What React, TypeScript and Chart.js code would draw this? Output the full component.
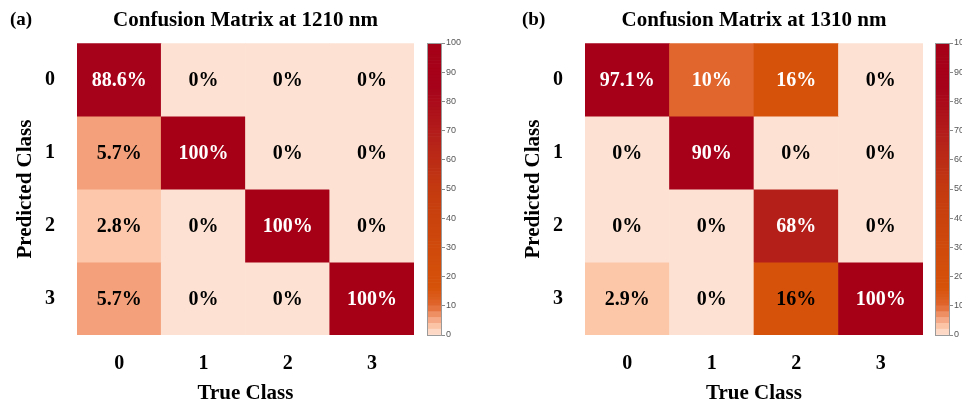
import React, { useEffect, useRef } from 'react';
import { Chart, registerables } from 'chart.js';

Chart.register(...registerables);

// ---- data ----
const classLabels = ['0', '1', '2', '3'];

// rows = predicted class, columns = true class (percent)
const matrix1210 = [
  [88.6, 0, 0, 0],
  [5.7, 100, 0, 0],
  [2.8, 0, 100, 0],
  [5.7, 0, 0, 100],
];

const matrix1310 = [
  [97.1, 10, 16, 0],
  [0, 90, 0, 0],
  [0, 0, 68, 0],
  [2.9, 0, 16, 100],
];

const colorbarTicks = [0, 10, 20, 30, 40, 50, 60, 70, 80, 90, 100];

// ---- styling ----
const SERIF = "'Liberation Serif', 'Times New Roman', Times, serif";
const SANS = "'Liberation Sans', Arial, sans-serif";

// value -> colour stops of the heat colour map
const STOPS: [number, string][] = [
  [0, '#fde2d3'],
  [2.8, '#fcc7aa'],
  [5.7, '#f4a07a'],
  [10, '#e0662e'],
  [16, '#d6520a'],
  [30, '#cf4a0b'],
  [50, '#c43a10'],
  [68, '#b41f1a'],
  [85, '#a6021a'],
  [100, '#a50016'],
];

function hexToRgb(h: string): number[] {
  const n = parseInt(h.slice(1), 16);
  return [(n >> 16) & 255, (n >> 8) & 255, n & 255];
}

function cmap(v: number): string {
  let i = 0;
  while (i < STOPS.length - 2 && v > STOPS[i + 1][0]) i++;
  const [v0, c0] = STOPS[i];
  const [v1, c1] = STOPS[i + 1];
  const t = Math.max(0, Math.min(1, (v - v0) / (v1 - v0)));
  const a = hexToRgb(c0);
  const b = hexToRgb(c1);
  const m = a.map((x, k) => Math.round(x + (b[k] - x) * t));
  return `rgb(${m[0]},${m[1]},${m[2]})`;
}

// percentage text inside each cell
const cellTextPlugin = {
  id: 'cellText',
  afterDatasetsDraw(chart: any, _args: any, opts: any) {
    const { ctx } = chart;
    const matrix: number[][] = opts.matrix;
    const isLight: (v: number, r: number, c: number) => boolean = opts.isLight;
    ctx.save();
    ctx.font = `bold 20px ${SERIF}`;
    ctx.textAlign = 'center';
    ctx.textBaseline = 'middle';
    chart.data.datasets.forEach((_ds: any, r: number) => {
      const meta = chart.getDatasetMeta(r);
      meta.data.forEach((el: any, c: number) => {
        const { x, y, base } = el.getProps(['x', 'y', 'base'], true);
        const v = matrix[r][c];
        ctx.fillStyle = isLight(v, r, c) ? '#ffffff' : '#000000';
        ctx.fillText(`${v}%`, x, (y + base) / 2 + 1);
      });
    });
    ctx.restore();
  },
};

// panel tag such as "(a)"
const panelTagPlugin = {
  id: 'panelTag',
  afterDraw(chart: any, _args: any, opts: any) {
    const { ctx } = chart;
    ctx.save();
    ctx.font = `bold 19px ${SERIF}`;
    ctx.fillStyle = '#000';
    ctx.textAlign = 'left';
    ctx.textBaseline = 'middle';
    ctx.fillText(opts.text, opts.x, opts.y);
    ctx.restore();
  },
};

// thin frame around the colour bar
const frameStrokePlugin = {
  id: 'frameStroke',
  afterDatasetsDraw(chart: any) {
    const { ctx, chartArea } = chart;
    ctx.save();
    ctx.strokeStyle = '#9a9a9a';
    ctx.lineWidth = 1;
    ctx.strokeRect(
      Math.round(chartArea.left) + 0.5,
      Math.round(chartArea.top) + 0.5,
      Math.round(chartArea.right - chartArea.left) - 1,
      Math.round(chartArea.bottom - chartArea.top)
    );
    ctx.restore();
  },
};

function heatmapConfig(
  title: string,
  tag: string,
  tagX: number,
  matrix: number[][],
  isLight: (v: number, r: number, c: number) => boolean
): any {
  const boldSerif = (size: number) => ({ family: SERIF, size, weight: 'bold' as const });
  return {
    type: 'bar',
    data: {
      labels: classLabels,
      datasets: matrix.map((row, r) => ({
        label: `Predicted ${classLabels[r]}`,
        data: row.map(() => [r - 0.5, r + 0.5]),
        backgroundColor: row.map((v) => cmap(v)),
        borderWidth: 0,
        barPercentage: 1,
        categoryPercentage: 1,
        grouped: false,
      })),
    },
    options: {
      responsive: false,
      animation: false,
      devicePixelRatio: 1,
      layout: { padding: { left: 0, right: 6, top: 0, bottom: 0 } },
      plugins: {
        legend: { display: false },
        tooltip: { enabled: false },
        title: {
          display: true,
          text: title,
          fullSize: false,
          color: '#000',
          font: boldSerif(21),
          padding: { top: 8, bottom: 10 },
        },
        cellText: { matrix, isLight },
        panelTag: { text: tag, x: tagX, y: 20 },
      },
      scales: {
        x: {
          type: 'category',
          grid: { display: false, drawTicks: false },
          border: { display: false },
          ticks: { color: '#000', font: boldSerif(20), padding: 17 },
          title: {
            display: true,
            text: 'True Class',
            color: '#000',
            font: boldSerif(21),
            padding: { top: 0, bottom: -3 },
          },
          afterFit: (s: any) => {
            s.height = 68;
          },
        },
        y: {
          type: 'linear',
          min: -0.5,
          max: 3.5,
          reverse: true,
          grid: { display: false, drawTicks: false },
          border: { display: false },
          afterBuildTicks: (s: any) => {
            s.ticks = classLabels.map((_l, i) => ({ value: i }));
          },
          ticks: {
            color: '#000',
            font: boldSerif(20),
            padding: 22,
            callback: (v: any) => classLabels[v] ?? '',
          },
          title: {
            display: true,
            text: 'Predicted Class',
            color: '#000',
            font: boldSerif(21),
            padding: { top: 13, bottom: 0 },
          },
          afterFit: (s: any) => {
            s.width = 77;
          },
        },
      },
    },
    plugins: [cellTextPlugin, panelTagPlugin],
  };
}

function colorbarConfig(): any {
  // stepped bands below 10, fine bands above
  const bands: [number, number][] = [];
  for (let v = 0; v < 10; v += 2) bands.push([v, v + 2]);
  for (let v = 10; v < 100; v += 1) bands.push([v, v + 1]);
  return {
    type: 'bar',
    data: {
      labels: [''],
      datasets: bands.map(([lo, hi]) => ({
        data: [[lo, hi]],
        backgroundColor: cmap(lo < 10 ? lo + 1 : (lo + hi) / 2),
        borderWidth: 0,
        barPercentage: 1,
        categoryPercentage: 1,
        grouped: false,
      })),
    },
    options: {
      responsive: false,
      animation: false,
      devicePixelRatio: 1,
      layout: { padding: { left: 0, right: 0, top: 43, bottom: 68 } },
      plugins: { legend: { display: false }, tooltip: { enabled: false } },
      scales: {
        x: { display: false },
        y: {
          position: 'right',
          min: 0,
          max: 100,
          afterBuildTicks: (s: any) => {
            s.ticks = colorbarTicks.map((v) => ({ value: v }));
          },
          grid: { drawOnChartArea: false, drawTicks: true, tickLength: 3, color: '#8a8a8a' },
          border: { display: false },
          ticks: { color: '#555', font: { family: SANS, size: 9 }, padding: 1 },
          afterFit: (s: any) => {
            s.width = 30;
          },
        },
      },
    },
    plugins: [frameStrokePlugin],
  };
}

function ChartCanvas({ make, left, width }: { make: () => any; left: number; width: number }) {
  const ref = useRef<HTMLCanvasElement | null>(null);
  useEffect(() => {
    if (!ref.current) return;
    const chart = new Chart(ref.current, make());
    return () => chart.destroy();
  }, []);
  return (
    <canvas
      ref={ref}
      width={width}
      height={403}
      style={{ position: 'absolute', left, top: 0, width, height: 403 }}
    />
  );
}

export default function App() {
  useEffect(() => {
    document.body.style.margin = '0';
    document.body.style.overflow = 'hidden';
  }, []);
  const lightA = (v: number) => v >= 80;
  const lightB = (v: number, r: number) => v >= 60 || (r === 0 && v >= 10);
  return (
    <div style={{ position: 'relative', width: 962, height: 403, overflow: 'hidden', background: '#fff' }}>
      <ChartCanvas
        left={0}
        width={420}
        make={() => heatmapConfig('Confusion Matrix at 1210 nm', '(a)', 10, matrix1210, lightA)}
      />
      <ChartCanvas left={427} width={45} make={colorbarConfig} />
      <ChartCanvas
        left={508}
        width={421}
        make={() => heatmapConfig('Confusion Matrix at 1310 nm', '(b)', 14, matrix1310, lightB)}
      />
      <ChartCanvas left={935} width={45} make={colorbarConfig} />
    </div>
  );
}
